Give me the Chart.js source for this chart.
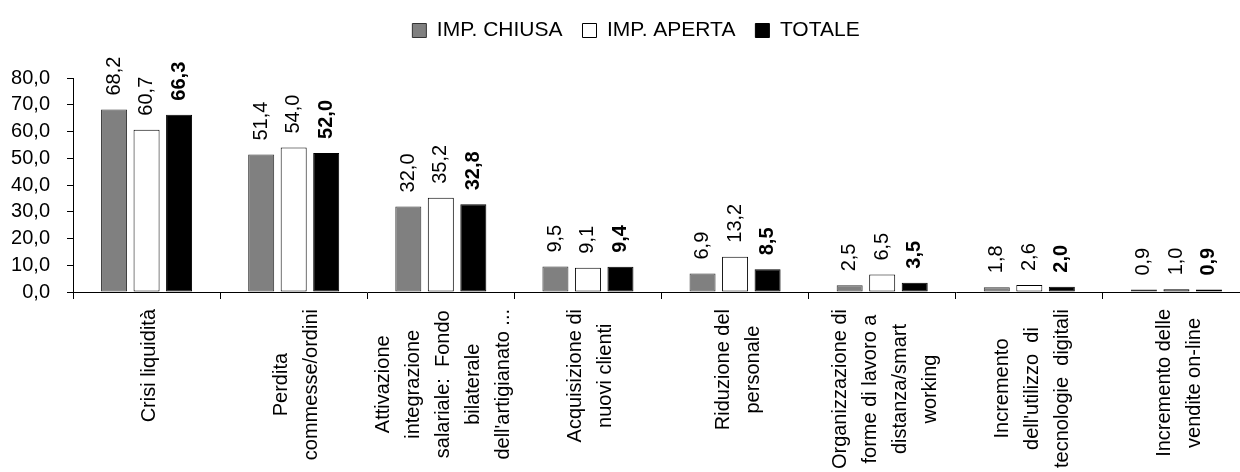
<!DOCTYPE html>
<html>
<head>
<meta charset="utf-8">
<script src="https://cdn.jsdelivr.net/npm/chart.js@4/dist/chart.umd.min.js"></script>
<style>
  html, body { margin: 0; padding: 0; background: #fff; overflow: hidden; }
  #wrap { width: 1250px; height: 472px; }
</style>
</head>
<body>
<div id="wrap"><canvas id="c" width="1250" height="472"></canvas></div>
<script>
// Categories (multi-line labels, drawn rotated under the axis)
const categories = [
  ['Crisi liquidità'],
  ['Perdita', 'commesse/ordini'],
  ['Attivazione', 'integrazione', 'salariale:  Fondo', 'bilaterale', "dell'artigianato ..."],
  ['Acquisizione di', 'nuovi clienti'],
  ['Riduzione del', 'personale'],
  ['Organizzazione di', 'forme di lavoro a', 'distanza/smart', 'working'],
  ['Incremento', "dell'utilizzo  di", 'tecnologie  digitali'],
  ['Incremento delle', 'vendite on-line']
];

const seriesNames = ['IMP. CHIUSA', 'IMP. APERTA', 'TOTALE'];
const impChiusa = [68.2, 51.4, 32.0, 9.5, 6.9, 2.5, 1.8, 0.9];
const impAperta = [60.7, 54.0, 35.2, 9.1, 13.2, 6.5, 2.6, 1.0];
const totale    = [66.3, 52.0, 32.8, 9.4, 8.5, 3.5, 2.0, 0.9];

const yMin = 0, yMax = 80, yStep = 10;

const FONT = '"Liberation Sans", Arial, sans-serif';
const fmt = v => v.toFixed(1).replace('.', ',');

// Value labels, rotated, above each bar; the total series is bold
const valueLabels = {
  id: 'valueLabels',
  afterDatasetsDraw(chart) {
    const ctx = chart.ctx;
    chart.data.datasets.forEach((ds, di) => {
      const meta = chart.getDatasetMeta(di);
      meta.data.forEach((bar, i) => {
        ctx.save();
        ctx.translate(bar.x, bar.y - 14);
        ctx.rotate(-Math.PI / 2);
        ctx.textAlign = 'left';
        ctx.textBaseline = 'middle';
        ctx.fillStyle = '#000';
        ctx.font = (di === 2 ? 'bold ' : '') + '20px ' + FONT;
        ctx.fillText(fmt(ds.data[i]), 0, 0);
        ctx.restore();
      });
    });
  }
};

// Category labels: each block top-aligned under the axis, lines centred in the block
const categoryLabels = {
  id: 'categoryLabels',
  afterDraw(chart) {
    const ctx = chart.ctx;
    const x = chart.scales.x;
    const top = chart.chartArea.bottom + 17;
    ctx.save();
    ctx.font = '20px ' + FONT;
    ctx.fillStyle = '#000';
    categories.forEach((lines, i) => {
      const cx = x.getPixelForValue(i) + 3;
      const w = Math.max(...lines.map(l => ctx.measureText(l).width));
      lines.forEach((line, j) => {
        const lx = cx + (j - (lines.length - 1) / 2) * 30;
        ctx.save();
        ctx.translate(lx, top + w / 2);
        ctx.rotate(-Math.PI / 2);
        ctx.textAlign = 'center';
        ctx.textBaseline = 'middle';
        ctx.fillText(line, 0, 0);
        ctx.restore();
      });
    });
    ctx.restore();
  }
};

// Legend row: extra room below it, and a small shift to the right
const legendPlacement = {
  id: 'legendPlacement',
  beforeInit(chart) {
    const fit = chart.legend.fit;
    chart.legend.fit = function () {
      fit.bind(chart.legend)();
      this.height += 27;
    };
  },
  afterLayout(chart) {
    chart.legend.left += 11;
    chart.legend.right += 11;
  }
};

new Chart(document.getElementById('c'), {
  type: 'bar',
  data: {
    labels: categories,
    datasets: [
      { label: seriesNames[0], data: impChiusa, backgroundColor: '#808080', borderColor: '#333333', borderWidth: 1 },
      { label: seriesNames[1], data: impAperta, backgroundColor: '#ffffff', borderColor: '#000000', borderWidth: 1 },
      { label: seriesNames[2], data: totale,    backgroundColor: '#000000', borderColor: '#000000', borderWidth: 1 }
    ]
  },
  options: {
    responsive: false,
    devicePixelRatio: 1,
    animation: false,
    layout: { padding: 0 },
    datasets: { bar: { barPercentage: 0.8, categoryPercentage: 0.663, borderSkipped: false } },
    plugins: {
      legend: {
        position: 'top',
        align: 'center',
        labels: {
          boxWidth: 14,
          boxHeight: 14,
          padding: 20,
          color: '#000',
          font: { family: FONT, size: 21 }
        }
      },
      tooltip: { enabled: false }
    },
    scales: {
      x: {
        offset: true,
        grid: { offset: true, drawOnChartArea: false, drawTicks: true, tickLength: 7, color: '#000', lineWidth: 1 },
        border: { color: '#000', width: 1 },
        ticks: { display: false },
        afterFit(s) { s.height = 180; }
      },
      y: {
        min: yMin,
        max: yMax,
        grid: { drawOnChartArea: false, drawTicks: true, tickLength: 6, color: '#000', lineWidth: 1 },
        border: { color: '#000', width: 1 },
        ticks: {
          stepSize: yStep,
          autoSkip: false,
          padding: 17,
          color: '#000',
          font: { family: FONT, size: 20 },
          callback: v => fmt(v)
        },
        afterFit(s) { s.width = 73; }
      }
    }
  },
  plugins: [legendPlacement, valueLabels, categoryLabels]
});
</script>
</body>
</html>
